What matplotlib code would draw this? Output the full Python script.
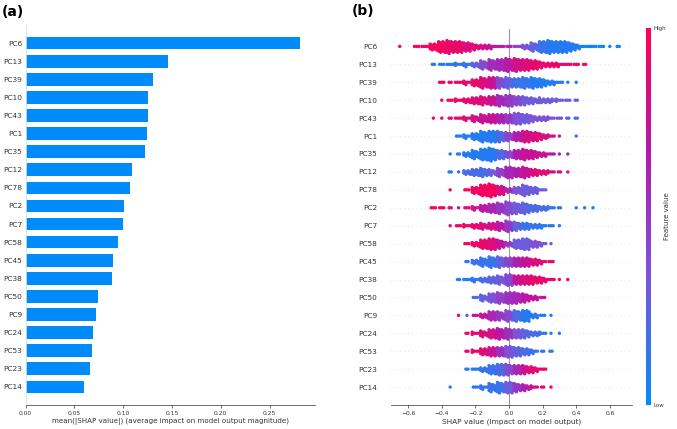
import numpy as np
import matplotlib
matplotlib.use("Agg")
import matplotlib.pyplot as plt
from matplotlib.colors import LinearSegmentedColormap

# feature order, top to bottom
features = ["PC6", "PC13", "PC39", "PC10", "PC43", "PC1", "PC35", "PC12", "PC78", "PC2",
            "PC7", "PC58", "PC45", "PC38", "PC50", "PC9", "PC24", "PC53", "PC23", "PC14"]

# mean(|SHAP value|) per feature
mean_abs_shap = [0.281, 0.1465, 0.131, 0.126, 0.126, 0.1247, 0.122, 0.109, 0.1066, 0.1007,
                 0.0997, 0.0946, 0.0895, 0.0888, 0.0745, 0.0727, 0.0693, 0.0686, 0.0663, 0.0601]

# beeswarm, read per 0.05 SHAP bin: (bin centre, number of dots, feature value 0=low 1=high)
pc6 = [(-0.65, 1, 1.0), (-0.55, 3, .95), (-0.50, 4, .95), (-0.45, 12, .95), (-0.40, 20, .95),
       (-0.35, 22, .9), (-0.30, 20, .9), (-0.25, 16, .85), (-0.20, 10, .85), (-0.15, 8, .8),
       (-0.10, 6, .75), (-0.05, 4, .7), (0.00, 3, .6), (0.05, 4, .45), (0.10, 8, .35),
       (0.15, 14, .25), (0.20, 20, .15), (0.25, 22, .1), (0.30, 20, .1), (0.35, 18, .1),
       (0.40, 10, .1), (0.45, 4, .05), (0.50, 4, .05), (0.55, 3, .05), (0.60, 1, .05), (0.65, 2, .05)]
pc13 = [(-0.45, 2, .1), (-0.40, 3, .1), (-0.35, 4, .1), (-0.30, 5, .15), (-0.25, 6, .15),
        (-0.20, 8, .25), (-0.15, 14, .4), (-0.10, 18, .55), (-0.05, 20, .6), (0.00, 22, .7),
        (0.05, 22, .8), (0.10, 20, .85), (0.15, 16, .9), (0.20, 10, .9), (0.25, 8, .9),
        (0.30, 6, .9), (0.35, 4, .9), (0.40, 3, .9), (0.45, 2, .95)]
pc39 = [(-0.40, 3, .95), (-0.35, 2, .95), (-0.30, 4, .9), (-0.25, 6, .9), (-0.20, 12, .9),
        (-0.15, 18, .85), (-0.10, 20, .75), (-0.05, 18, .4), (0.00, 18, .25), (0.05, 16, .15),
        (0.10, 18, .15), (0.15, 18, .1), (0.20, 14, .1), (0.25, 8, .1), (0.30, 4, .1),
        (0.35, 1, .1), (0.40, 1, .1)]
pc10 = [(-0.40, 1, .95), (-0.35, 3, .95), (-0.30, 5, .9), (-0.25, 8, .9), (-0.20, 12, .85),
        (-0.15, 14, .85), (-0.10, 16, .75), (-0.05, 18, .6), (0.00, 20, .5), (0.05, 16, .4),
        (0.10, 14, .3), (0.15, 10, .3), (0.20, 9, .3), (0.25, 7, .3), (0.30, 5, .3),
        (0.35, 3, .3), (0.40, 2, .3)]
pc43 = [(-0.45, 1, 1.0), (-0.40, 1, .95), (-0.35, 2, .9), (-0.30, 4, .9), (-0.25, 6, .85),
        (-0.20, 10, .8), (-0.15, 14, .75), (-0.10, 16, .75), (-0.05, 16, .65), (0.00, 16, .5),
        (0.05, 20, .35), (0.10, 16, .3), (0.15, 10, .35), (0.20, 8, .35), (0.25, 5, .35),
        (0.30, 3, .3), (0.35, 2, .2), (0.40, 2, .2)]
pc1 = [(-0.30, 3, .1), (-0.25, 6, .1), (-0.20, 12, .1), (-0.15, 18, .1), (-0.10, 20, .1),
       (-0.05, 18, .2), (0.00, 14, .45), (0.05, 16, .65), (0.10, 20, .8), (0.15, 16, .85),
       (0.20, 10, .85), (0.25, 5, .85), (0.30, 1, .8), (0.40, 1, .2)]
pc35 = [(-0.35, 1, .1), (-0.30, 2, .1), (-0.25, 8, .1), (-0.20, 14, .1), (-0.15, 20, .1),
        (-0.10, 22, .1), (-0.05, 16, .2), (0.00, 12, .4), (0.05, 16, .65), (0.10, 18, .75),
        (0.15, 14, .75), (0.20, 8, .75), (0.25, 4, .7), (0.30, 1, .6), (0.35, 1, .6)]
pc12 = [(-0.35, 2, .1), (-0.30, 1, .15), (-0.25, 8, .2), (-0.20, 12, .2), (-0.15, 14, .2),
        (-0.10, 10, .3), (-0.05, 14, .45), (0.00, 20, .6), (0.05, 16, .65), (0.10, 18, .75),
        (0.15, 12, .85), (0.20, 8, .85), (0.25, 5, .85), (0.30, 2, .85), (0.35, 1, .85)]
pc78 = [(-0.35, 1, .95), (-0.25, 3, .95), (-0.20, 12, .95), (-0.15, 20, .95), (-0.10, 22, .95),
        (-0.05, 16, .85), (0.00, 8, .6), (0.05, 12, .35), (0.10, 18, .3), (0.15, 12, .3),
        (0.20, 4, .3)]
pc2 = [(-0.45, 3, .95), (-0.40, 3, .95), (-0.35, 2, .9), (-0.30, 1, .9), (-0.25, 3, .85),
       (-0.20, 6, .8), (-0.15, 12, .7), (-0.10, 16, .6), (-0.05, 18, .5), (0.00, 22, .4),
       (0.05, 18, .3), (0.10, 18, .25), (0.15, 12, .2), (0.20, 8, .2), (0.25, 5, .15),
       (0.30, 2, .1), (0.40, 1, .1), (0.45, 1, .1), (0.50, 1, .1)]
pc7 = [(-0.35, 1, .95), (-0.30, 3, .95), (-0.25, 5, .9), (-0.20, 8, .9), (-0.15, 10, .85),
       (-0.10, 12, .8), (-0.05, 14, .7), (0.00, 18, .5), (0.05, 14, .25), (0.10, 12, .15),
       (0.15, 8, .15), (0.20, 6, .1), (0.25, 3, .1), (0.30, 1, .1)]
pc58 = [(-0.25, 3, .9), (-0.20, 8, .9), (-0.15, 16, .9), (-0.10, 20, .85), (-0.05, 14, .75),
        (0.00, 8, .5), (0.05, 16, .3), (0.10, 20, .3), (0.15, 12, .35), (0.20, 6, .35),
        (0.25, 1, .3)]
pc45 = [(-0.25, 2, .15), (-0.20, 8, .15), (-0.15, 14, .15), (-0.10, 18, .15), (-0.05, 18, .25),
        (0.00, 16, .45), (0.05, 16, .65), (0.10, 16, .75), (0.15, 12, .85), (0.20, 6, .85),
        (0.25, 3, .85)]
pc38 = [(-0.30, 2, .1), (-0.25, 4, .1), (-0.20, 6, .15), (-0.15, 8, .2), (-0.10, 12, .25),
        (-0.05, 14, .3), (0.00, 20, .4), (0.05, 16, .75), (0.10, 16, .85), (0.15, 14, .9),
        (0.20, 10, .9), (0.25, 4, .9), (0.30, 1, .9), (0.35, 1, .95)]
pc50 = [(-0.20, 3, .2), (-0.15, 10, .25), (-0.10, 16, .35), (-0.05, 18, .45), (0.00, 20, .55),
        (0.05, 18, .6), (0.10, 14, .7), (0.15, 8, .75), (0.20, 3, .75)]
pc9 = [(-0.30, 1, .95), (-0.25, 1, .3), (-0.20, 3, .7), (-0.15, 8, .75), (-0.10, 16, .6),
       (-0.05, 14, .5), (0.00, 18, .4), (0.05, 18, .2), (0.10, 20, .1), (0.15, 8, .1),
       (0.20, 3, .1), (0.25, 1, .1)]
pc24 = [(-0.25, 2, .9), (-0.20, 5, .9), (-0.15, 10, .85), (-0.10, 16, .8), (-0.05, 18, .7),
        (0.00, 18, .55), (0.05, 16, .35), (0.10, 14, .25), (0.15, 8, .2), (0.20, 5, .15),
        (0.25, 1, .1), (0.30, 1, .1)]
pc53 = [(-0.25, 2, .9), (-0.20, 5, .9), (-0.15, 12, .85), (-0.10, 16, .75), (-0.05, 16, .55),
        (0.00, 20, .35), (0.05, 16, .25), (0.10, 12, .2), (0.15, 6, .15), (0.20, 2, .1),
        (0.25, 2, .1)]
pc23 = [(-0.25, 2, .1), (-0.20, 4, .1), (-0.15, 8, .15), (-0.10, 16, .15), (-0.05, 20, .2),
        (0.00, 18, .4), (0.05, 16, .6), (0.10, 14, .8), (0.15, 10, .9), (0.20, 4, .95)]
pc14 = [(-0.35, 1, .1), (-0.20, 3, .1), (-0.15, 6, .15), (-0.10, 14, .15), (-0.05, 18, .15),
        (0.00, 20, .3), (0.05, 14, .5), (0.10, 10, .65), (0.15, 5, .8), (0.20, 2, .9),
        (0.25, 1, .95)]

swarm_rows = [pc6, pc13, pc39, pc10, pc43, pc1, pc35, pc12, pc78, pc2,
              pc7, pc58, pc45, pc38, pc50, pc9, pc24, pc53, pc23, pc14]

axis_color = "#333333"
bar_color = "#008bfb"
cmap = LinearSegmentedColormap.from_list("red_blue", ["#008bfb", "#7a55d8", "#b21aae", "#ff0051"])


def swarm_points(bins, pos, sub=0.0125, dy=0.13):
    # stack the dots of each bin in 4 narrow columns, centred on the row;
    # odd columns sit half a step lower so the swarm is less blocky
    xs, ys, cs = [], [], []
    for c, n, v in bins:
        ncol = min(n, 4)
        for j in range(ncol):
            m = len(range(j, n, ncol))
            x = c + (j - (ncol - 1) / 2) * sub
            shift = -dy / 2 if (j % 2 and m > 1) else 0
            for k in range(m):
                xs.append(x)
                ys.append(pos + (k - (m - 1) / 2) * dy + shift)
                cs.append(v)
    return xs, ys, cs


fig = plt.figure(figsize=(6.77, 4.29), dpi=100)

# (a) bar plot
ax1 = fig.add_axes([25.5 / 677, 24 / 429, 289.5 / 677, 380 / 429])
ypos = np.arange(len(features))[::-1]
ax1.barh(ypos, mean_abs_shap, height=0.7, color=bar_color, align="center")
ax1.set_yticks(ypos)
ax1.set_yticklabels(features, fontsize=5.3, color=axis_color)
ax1.set_ylim(-1, len(features))
ax1.set_xlim(0, 0.2966)
ax1.set_xticks(np.arange(0, 0.26, 0.05))
ax1.set_xticklabels([f"{t:.2f}" for t in np.arange(0, 0.26, 0.05)])
ax1.tick_params(axis="x", labelsize=4.3, colors=axis_color, length=2, width=0.5, pad=2)
ax1.tick_params(axis="y", length=0, pad=2.5)
ax1.set_xlabel("mean(|SHAP value|) (average impact on model output magnitude)",
               fontsize=5.1, color=axis_color, labelpad=2)
for s in ["top", "right"]:
    ax1.spines[s].set_visible(False)
ax1.spines["left"].set_color("#dddddd")
ax1.spines["left"].set_linewidth(0.6)
ax1.spines["bottom"].set_color(axis_color)
ax1.spines["bottom"].set_linewidth(0.5)

# (b) beeswarm
ax2 = fig.add_axes([391 / 677, 24 / 429, 241 / 677, 376.5 / 429])
for i, bins in enumerate(swarm_rows):
    pos = len(features) - 1 - i
    ax2.axhline(y=pos, color="#cccccc", lw=0.5, dashes=(1, 5), zorder=-1)
    xs, ys, cs = swarm_points(bins, pos)
    ax2.scatter(xs, ys, c=cs, cmap=cmap, vmin=0, vmax=1, s=6, linewidths=0, zorder=3)
ax2.axvline(x=0, color="#999999", lw=0.8, zorder=-1)
ax2.set_yticks(ypos)
ax2.set_yticklabels(features, fontsize=5.3, color=axis_color)
ax2.set_ylim(-1, len(features))
ax2.set_xlim(-0.702, 0.732)
ax2.set_xticks(np.arange(-0.6, 0.61, 0.2))
ax2.tick_params(axis="x", labelsize=4.3, colors=axis_color, length=2, width=0.5, pad=2)
ax2.tick_params(axis="y", length=0, pad=10)
ax2.set_xlabel("SHAP value (impact on model output)", fontsize=5.3, color=axis_color, labelpad=2)
for s in ["top", "right", "left"]:
    ax2.spines[s].set_visible(False)
ax2.spines["bottom"].set_color(axis_color)
ax2.spines["bottom"].set_linewidth(0.5)

# colour bar
cax = fig.add_axes([646 / 677, 24 / 429, 5 / 677, 377 / 429])
sm = plt.cm.ScalarMappable(cmap=cmap, norm=plt.Normalize(0, 1))
cb = fig.colorbar(sm, cax=cax, ticks=[0, 1])
cb.set_ticklabels(["Low", "High"])
cb.ax.tick_params(labelsize=4, length=0, pad=1.5, colors=axis_color)
cb.outline.set_visible(False)
cb.set_label("Feature value", size=5, labelpad=-1, color=axis_color)

fig.text(2 / 677, 1 - 12 / 429, "(a)", fontsize=10, fontweight="bold", va="center")
fig.text(352 / 677, 1 - 11 / 429, "(b)", fontsize=10, fontweight="bold", va="center")

fig.savefig("out.png", dpi=100)
